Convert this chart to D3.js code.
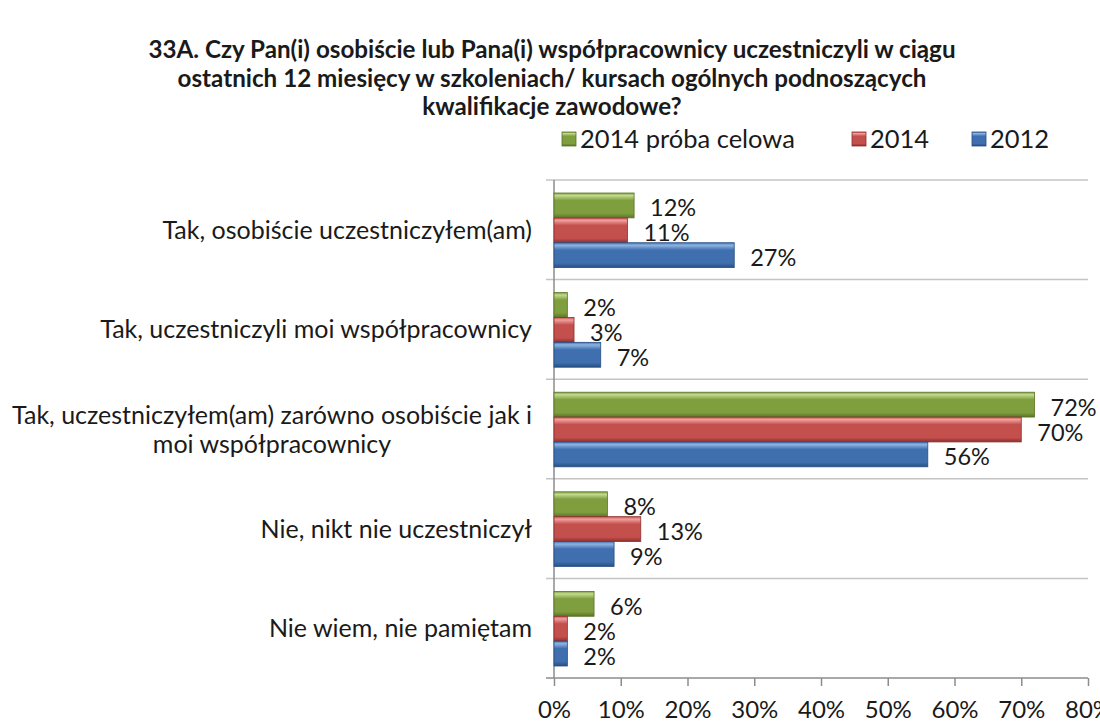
<!DOCTYPE html>
<html>
<head>
<meta charset="utf-8" />
<style>
body {
	margin: 0;
	background: #fff;
	font-family: Lato, "Open Sans", Arial;
}
svg {
	display: block;
}
.title {
	font-weight: bold;
	font-size: 24.2px;
	fill: #1a1a1a;
	text-anchor: middle;
}
.cat-label {
	font-size: 25px;
	fill: #1a1a1a;
	text-anchor: middle;
}
.bar-label {
	font-size: 23.5px;
	fill: #1a1a1a;
}
.legend-label {
	font-size: 25.5px;
	fill: #1a1a1a;
}
.x-axis text {
	font-size: 24px;
	fill: #1a1a1a;
	font-family: Lato, "Open Sans", Arial;
}
.x-axis line, .x-axis path {
	stroke: #8c8c8c;
	stroke-width: 1.5;
}
.grid line {
	stroke: #c4c4c4;
	stroke-width: 1.5;
}
</style>
</head>
<body>
<script src="https://cdn.jsdelivr.net/npm/d3@7"></script>
<script>
var titleLines = ["33A. Czy Pan(i) osobiście lub Pana(i) współpracownicy uczestniczyli w ciągu",
    "ostatnich 12 miesięcy w szkoleniach/ kursach ogólnych podnoszących",
    "kwalifikacje zawodowe?"];

var categories = ["Tak, osobiście uczestniczyłem(am)",
    "Tak, uczestniczyli moi współpracownicy",
    "Tak, uczestniczyłem(am) zarówno osobiście jak i\nmoi współpracownicy",
    "Nie, nikt nie uczestniczył",
    "Nie wiem, nie pamiętam"];

var seriesNames = ["2014 próba celowa", "2014", "2012"];

var proba2014 = [12, 2, 72, 8, 6];
var values2014 = [11, 3, 70, 13, 2];
var values2012 = [27, 7, 56, 9, 2];

var xTicks = [0, 10, 20, 30, 40, 50, 60, 70, 80];

var seriesColors = [
    {light: "#c2da8e", base: "#7f9e3e", dark: "#5a7428"},
    {light: "#f0a09e", base: "#c4504d", dark: "#8e2f2d"},
    {light: "#8fb4e3", base: "#3f6fae", dark: "#274e82"}];

var allSeries = [proba2014, values2014, values2012];

var width = 1100,
    height = 724;

var svg = d3.select("body").append("svg")
	.attr("width", width)
	.attr("height", height);

// gradients for the bevelled bars
var defs = svg.append("defs");
seriesColors.forEach(function(c, i) {
	var g = defs.append("linearGradient")
		.attr("id", "grad" + i)
		.attr("x1", 0).attr("y1", 0)
		.attr("x2", 0).attr("y2", 1);
	g.append("stop").attr("offset", "0%").attr("stop-color", c.base);
	g.append("stop").attr("offset", "10%").attr("stop-color", c.light);
	g.append("stop").attr("offset", "30%").attr("stop-color", c.base);
	g.append("stop").attr("offset", "82%").attr("stop-color", c.base);
	g.append("stop").attr("offset", "100%").attr("stop-color", c.dark);
});

// title
svg.append("g").selectAll("text")
	.data(titleLines)
	.enter().append("text")
	.attr("class", "title")
	.attr("x", 552)
	.attr("y", function(d, i) { return 58 + i * 28.5; })
	.text(function(d) { return d; });

var x = d3.scaleLinear()
	.domain([0, 80])
	.range([554, 1088]);

var y = d3.scaleBand()
	.domain(categories)
	.range([180, 678]);

var ySeries = d3.scaleBand()
	.domain(seriesNames)
	.range([13, y.bandwidth() - 12]);

// horizontal grid lines between categories
var bounds = categories.map(function(d) { return y(d); });
svg.append("g")
	.attr("class", "grid")
	.selectAll("line")
	.data(bounds)
	.enter().append("line")
	.attr("x1", 546)
	.attr("x2", x(80))
	.attr("y1", function(d) { return d; })
	.attr("y2", function(d) { return d; });

// vertical axis line
svg.append("line")
	.attr("x1", x(0)).attr("x2", x(0))
	.attr("y1", 180).attr("y2", 678)
	.attr("stroke", "#8c8c8c")
	.attr("stroke-width", 1.5);

// bottom axis
var xAxis = d3.axisBottom(x)
	.tickValues(xTicks)
	.tickSize(8)
	.tickSizeOuter(0)
	.tickPadding(15)
	.tickFormat(function(d) { return d + "%"; });

svg.append("g")
	.attr("class", "x-axis")
	.attr("transform", "translate(0,678)")
	.call(xAxis)
	.call(function(g) { g.select(".domain").attr("d", "M546,0H" + x(80)); });

// bars
allSeries.forEach(function(vals, s) {
	var grp = svg.append("g");
	grp.selectAll("rect")
		.data(vals)
		.enter().append("rect")
		.attr("x", x(0))
		.attr("y", function(d, i) { return y(categories[i]) + ySeries(seriesNames[s]); })
		.attr("width", function(d) { return x(d) - x(0); })
		.attr("height", ySeries.bandwidth())
		.attr("fill", "url(#grad" + s + ")")
		.attr("stroke", seriesColors[s].dark)
		.attr("stroke-width", 0.8);

	grp.selectAll("text")
		.data(vals)
		.enter().append("text")
		.attr("class", "bar-label")
		.attr("x", function(d) { return x(d) + 16; })
		.attr("y", function(d, i) { return y(categories[i]) + ySeries(seriesNames[s]) + ySeries.bandwidth() / 2 + 11; })
		.text(function(d) { return d + "%"; });
});

// category labels, right aligned, multi-line centred
categories.forEach(function(c) {
	var lines = c.split("\n");
	var g = svg.append("g");
	var texts = g.selectAll("text")
		.data(lines)
		.enter().append("text")
		.attr("class", "cat-label")
		.attr("y", function(d, i) {
			return y(c) + y.bandwidth() / 2 + 9 + (i - (lines.length - 1) / 2) * 29;
		})
		.text(function(d) { return d; });
	var maxW = 0;
	texts.each(function() { maxW = Math.max(maxW, this.getComputedTextLength()); });
	texts.attr("x", 532 - maxW / 2);
});

// legend
var legendX = [562, 852, 972];
var legend = svg.append("g");
seriesNames.forEach(function(n, i) {
	legend.append("rect")
		.attr("x", legendX[i])
		.attr("y", 132)
		.attr("width", 14)
		.attr("height", 14)
		.attr("fill", "url(#grad" + i + ")")
		.attr("stroke", seriesColors[i].dark)
		.attr("stroke-width", 0.8);
	legend.append("text")
		.attr("class", "legend-label")
		.attr("x", legendX[i] + 18)
		.attr("y", 148)
		.text(n);
});
</script>
</body>
</html>
